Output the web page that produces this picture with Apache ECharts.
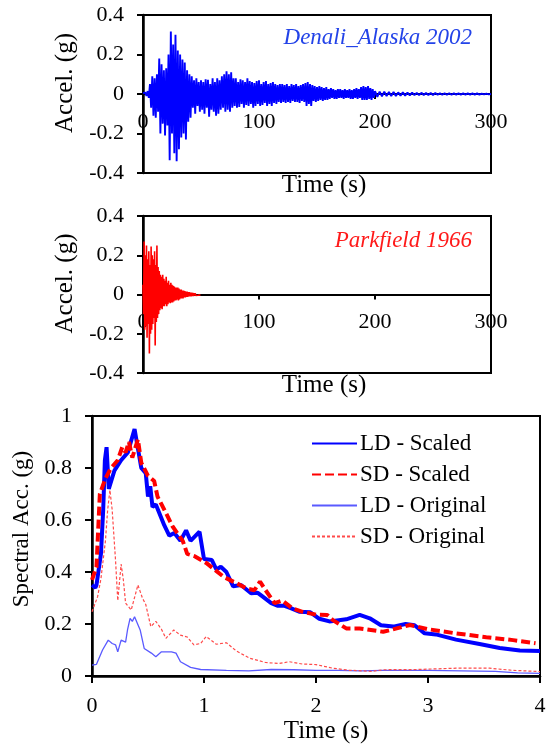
<!DOCTYPE html>
<html>
<head>
<meta charset="utf-8">
<script src="https://cdn.jsdelivr.net/npm/echarts@6/dist/echarts.min.js"></script>
<style>
html,body{margin:0;padding:0;background:#fff;}
#c{width:553px;height:747px;}
</style>
</head>
<body>
<div id="c"></div>
<script>
// ---------- DATA ----------
// Denali_Alaska 2002 accelerogram peaks (g), 1 s apart from t = 0 s
const denaliMainStart = 0, denaliMainStep = 1;
const denaliMain = [
 0.003,-0.004,0.008,-0.01,0.015,-0.02,0.05,-0.07,0.09,-0.11,
 0.08,-0.12,0.1,-0.09,0.18,-0.2,0.15,-0.15,0.12,-0.21,
 0.13,-0.16,0.2,-0.335,0.316,-0.2,0.25,-0.3,0.3,-0.34,
 0.22,-0.28,0.2,-0.22,0.175,-0.2,0.16,-0.23,0.12,-0.14,
 0.1,-0.12,0.09,-0.07,0.07,-0.1,0.08,-0.06,0.06,-0.09,
 0.07,-0.08,0.06,-0.1,0.075,-0.07,0.072,-0.115,0.05,-0.08,
 0.08,-0.09,0.06,-0.11,0.08,-0.1,0.07,-0.08,0.09,-0.07,
 0.1,-0.09,0.115,-0.08,0.1,-0.09,0.11,-0.07,0.08,-0.06,
 0.08,-0.07,0.06,-0.065,0.075,-0.05,0.07,-0.07,0.06,-0.055,
 0.08,-0.06,0.065,-0.05,0.06,-0.07,0.055,-0.06,0.065,-0.05,
 0.07,-0.06,0.05,-0.055,0.06,-0.045,0.065,-0.06,0.05,-0.05,
 0.055,-0.06,0.06,-0.045,0.05,-0.05,0.045,-0.04,0.05,-0.045,
 0.05,-0.04,0.045,-0.045,0.05,-0.04,0.04,-0.045,0.05,-0.035,
 0.045,-0.04,0.05,-0.04,0.04,-0.045,0.045,-0.035,0.05,-0.04,
 0.055,-0.06,0.06,-0.05,0.05,-0.06,0.045,-0.035,0.04,-0.04,
 0.035,-0.035,0.04,-0.03,0.035,-0.035,0.03,-0.03,0.035,-0.03,
 0.025,-0.025,0.03,-0.02,0.025,-0.025,0.02,-0.025,0.025,-0.02,
 0.025,-0.02,0.02,-0.025,0.025,-0.02,0.02,-0.02,0.025,-0.025,
 0.02,-0.025,0.025,-0.02,0.03,-0.025,0.025,-0.02,0.035,-0.03,
 0.04,-0.03,0.035,-0.03,0.04,-0.025,0.03,-0.03,0.025,-0.02
];
// Denali tail peaks (g), 2 s apart from t = 200 s
const denaliTailStart = 200, denaliTailStep = 2;
const denaliTail = [
 0.015,-0.015,0.012,-0.012,0.012,-0.01,0.01,-0.01,0.01,-0.01,
 0.008,-0.008,0.008,-0.008,0.007,-0.007,0.007,-0.006,0.006,-0.006,
 0.006,-0.005,0.005,-0.005,0.005,-0.005,0.005,-0.004,0.004,-0.004,
 0.004,-0.004,0.004,-0.004,0.004,-0.003,0.003,-0.003,0.003,-0.003,
 0.003,-0.003,0.003,-0.003,0.003,-0.003,0.002,-0.002,0.002,-0.002,
 0
];
// Parkfield 1966 accelerogram peaks (g), 0.5 s apart from t = 0 s
const parkStart = 0, parkStep = 0.5;
const parkfield = [
 0.05,-0.1,0.27,-0.18,0.2,-0.16,0.25,-0.22,0.18,-0.15,
 0.22,-0.30,0.15,-0.2,0.245,-0.18,0.2,-0.15,0.18,-0.12,
 0.22,-0.26,0.15,-0.14,0.25,-0.12,0.14,-0.1,0.12,-0.08,
 0.1,-0.07,0.09,-0.075,0.1,-0.06,0.08,-0.06,0.07,-0.05,
 0.09,-0.06,0.06,-0.05,0.07,-0.04,0.05,-0.045,0.06,-0.04,
 0.05,-0.04,0.045,-0.035,0.04,-0.03,0.035,-0.03,0.035,-0.025,
 0.035,-0.03,0.03,-0.025,0.025,-0.02,0.025,-0.02,0.02,-0.02,
 0.02,-0.015,0.018,-0.015,0.015,-0.012,0.015,-0.012,0.012,-0.01,
 0.012,-0.01,0.01,-0.01,0.01,-0.008,0.008,-0.008,0.007,-0.006,
 0.006,-0.005,0.005,-0.004,0.004,-0.004,0.003,-0.003,0.002,-0.002,
 0
];

// Spectral acceleration (g) vs period (s)
const ldScaledT  = [0,0.03,0.04,0.08,0.10,0.115,0.13,0.15,0.2,0.26,0.32,0.38,0.44,0.48,0.50,0.52,0.54,0.57,0.645,0.69,0.735,0.79,0.84,0.88,0.96,1.0,1.07,1.11,1.15,1.20,1.26,1.33,1.42,1.48,1.51,1.60,1.66,1.72,1.78,1.85,1.95,2.03,2.12,2.27,2.39,2.48,2.58,2.69,2.8,2.88,2.97,3.07,3.25,3.46,3.64,3.82,4.0];
const ldScaledSA = [0.35,0.34,0.35,0.47,0.64,0.83,0.88,0.72,0.79,0.83,0.86,0.95,0.80,0.78,0.69,0.73,0.65,0.66,0.58,0.54,0.55,0.52,0.56,0.52,0.555,0.45,0.446,0.41,0.42,0.40,0.345,0.35,0.318,0.32,0.31,0.28,0.27,0.27,0.26,0.247,0.245,0.22,0.21,0.218,0.235,0.222,0.195,0.19,0.2,0.195,0.164,0.16,0.14,0.123,0.108,0.098,0.096];

const sdScaledT  = [0,0.04,0.07,0.12,0.17,0.23,0.27,0.30,0.33,0.36,0.41,0.44,0.50,0.555,0.585,0.645,0.72,0.81,0.85,0.92,1.02,1.08,1.18,1.29,1.38,1.45,1.50,1.55,1.63,1.70,1.79,1.88,2.0,2.1,2.15,2.27,2.39,2.60,2.72,2.84,3.0,3.25,3.52,3.76,3.96];
const sdScaledSA = [0.37,0.42,0.70,0.76,0.80,0.83,0.88,0.86,0.90,0.84,0.91,0.82,0.77,0.75,0.69,0.64,0.575,0.52,0.47,0.46,0.435,0.414,0.38,0.357,0.337,0.33,0.363,0.33,0.28,0.29,0.26,0.247,0.236,0.235,0.215,0.183,0.183,0.17,0.183,0.196,0.18,0.164,0.149,0.138,0.126];

const ldOrigT  = [0,0.04,0.094,0.145,0.18,0.21,0.23,0.26,0.30,0.317,0.34,0.36,0.38,0.43,0.466,0.53,0.57,0.62,0.71,0.75,0.79,0.88,0.97,1.2,1.4,1.6,1.8,2.0,2.2,2.4,2.6,2.8,3.0,3.3,3.6,3.8,4.0];
const ldOrigSA = [0.042,0.045,0.10,0.138,0.125,0.12,0.093,0.138,0.13,0.177,0.222,0.21,0.228,0.177,0.106,0.088,0.074,0.093,0.093,0.088,0.055,0.033,0.025,0.022,0.02,0.025,0.024,0.022,0.022,0.02,0.022,0.022,0.022,0.02,0.018,0.012,0.01];

const sdOrigT  = [0,0.05,0.08,0.12,0.14,0.16,0.18,0.21,0.23,0.26,0.28,0.30,0.35,0.41,0.45,0.48,0.525,0.57,0.62,0.66,0.73,0.79,0.85,0.91,0.97,1.02,1.11,1.2,1.29,1.41,1.55,1.67,1.76,1.88,2.0,2.15,2.3,2.5,2.6,2.9,3.25,3.55,3.75,4.0];
const sdOrigSA = [0.247,0.305,0.375,0.52,0.64,0.715,0.64,0.446,0.29,0.43,0.37,0.28,0.254,0.35,0.30,0.275,0.19,0.21,0.18,0.145,0.177,0.157,0.15,0.12,0.125,0.152,0.122,0.128,0.096,0.068,0.052,0.048,0.055,0.046,0.044,0.03,0.022,0.018,0.024,0.025,0.03,0.03,0.022,0.017];

const accelTicks = [-0.4,-0.2,0,0.2,0.4];
const timeTicks = [0,100,200,300];
const labels = { denali: 'Denali_Alaska 2002', park: 'Parkfield 1966' };
const legendNames = ['LD - Scaled','SD - Scaled','LD - Original','SD - Original'];

// ---------- BUILD ----------
const FONT = "'Liberation Serif', 'Times New Roman', Times, serif";
const zip = (a,b) => a.map((v,i)=>[v,b[i]]);
const stepSeries = (vals,start,step) => vals.map((v,i)=>[start + i*step, v]);
const denaliData = stepSeries(denaliMain, denaliMainStart, denaliMainStep)
  .concat(stepSeries(denaliTail, denaliTailStart, denaliTailStep));
const parkData = stepSeries(parkfield, parkStart, parkStep);

const tick = {fontFamily: FONT, fontSize: 22, color: '#000'};
const nameTxt = {fontFamily: FONT, fontSize: 25, color: '#000'};

const tsGrids = [
  {left:143, width:348, top:15, height:158},
  {left:143, width:348, top:216, height:157}
];

function tsX(grid){
  // x axis drawn along the zero line (middle of the symmetric y range)
  const zeroOffset = -tsGrids[grid].height / 2;
  return {
    type:'value', gridIndex:grid, min:timeTicks[0], max:timeTicks[timeTicks.length-1], interval:100,
    position:'bottom', offset:zeroOffset,
    axisLine:{onZero:false, lineStyle:{color:'#000', width:2}},
    axisTick:{show:true, inside:false, length:5, lineStyle:{color:'#000', width:2}},
    axisLabel:Object.assign({margin:17}, tick),
    splitLine:{show:false},
    name:'Time (s)', nameLocation:'middle', nameGap:-zeroOffset + 0,
    nameTextStyle:Object.assign({padding:[0,0,0,14]}, nameTxt)
  };
}
function tsY(grid){
  return {
    type:'value', gridIndex:grid, min:accelTicks[0], max:accelTicks[accelTicks.length-1], interval:0.2,
    axisLine:{show:true, onZero:false, lineStyle:{color:'#000', width:2.5}},
    axisTick:{show:true, inside:false, length:6, lineStyle:{color:'#000', width:2}},
    axisLabel:Object.assign({margin:19}, tick),
    splitLine:{show:false},
    name:'Accel. (g)', nameLocation:'middle', nameGap:61,
    nameTextStyle:Object.assign({padding:[0,0,0,22]}, nameTxt)
  };
}

const xAxes = [tsX(0), tsX(1), {
  type:'value', gridIndex:2, min:0, max:4, interval:1,
  axisLine:{onZero:false, lineStyle:{color:'#000', width:2.5}},
  axisTick:{show:true, inside:false, length:7, lineStyle:{color:'#000', width:2}},
  axisLabel:Object.assign({margin:19}, tick),
  splitLine:{show:false},
  name:'Time (s)', nameLocation:'middle', nameGap:43,
  nameTextStyle:Object.assign({padding:[0,0,0,20]}, nameTxt)
}];
const yAxes = [tsY(0), tsY(1), {
  type:'value', gridIndex:2, min:0, max:1, interval:0.2,
  axisLine:{show:true, onZero:false, lineStyle:{color:'#000', width:2.5}},
  axisTick:{show:true, inside:false, length:7, lineStyle:{color:'#000', width:2}},
  axisLabel:Object.assign({margin:20}, tick),
  splitLine:{show:false},
  name:'Spectral Acc. (g)', nameLocation:'middle', nameGap:55,
  nameTextStyle:Object.assign({padding:[0,0,0,34]}, {fontFamily:FONT, fontSize:23, color:'#000'})
}];

const frame = {show:true, borderColor:'#000', borderWidth:2, backgroundColor:'transparent'};
const option = {
  animation:false,
  backgroundColor:'#fff',
  textStyle:{fontFamily:FONT},
  title:[
    {text:labels.denali, right:81, top:26, padding:0,
     textStyle:{fontFamily:FONT, fontSize:23, fontStyle:'italic', fontWeight:'normal', color:'#2343e8'}},
    {text:labels.park, right:81, top:229, padding:0,
     textStyle:{fontFamily:FONT, fontSize:23, fontStyle:'italic', fontWeight:'normal', color:'#ff1a1a'}}
  ],
  grid:[
    Object.assign({}, tsGrids[0], frame),
    Object.assign({}, tsGrids[1], frame),
    Object.assign({left:92, width:448, top:416, height:260}, frame)
  ],
  xAxis:xAxes,
  yAxis:yAxes,
  legend:{
    data:legendNames, orient:'vertical', left:311, top:432, padding:0,
    itemWidth:45, itemHeight:14, itemGap:8,
    itemStyle:{opacity:0},
    textStyle:{fontFamily:FONT, fontSize:23, color:'#000', padding:[0,0,0,-2]}
  },
  series:[
    {type:'line', name:'Denali', xAxisIndex:0, yAxisIndex:0, data:denaliData, symbol:'none',
     lineStyle:{color:'#0000ff', width:1.9}, itemStyle:{color:'#0000ff'}, z:3},
    {type:'line', name:'Parkfield', xAxisIndex:1, yAxisIndex:1, data:parkData, symbol:'none',
     lineStyle:{color:'#ff0000', width:1.6}, itemStyle:{color:'#ff0000'}, z:3},
    {type:'line', name:legendNames[2], xAxisIndex:2, yAxisIndex:2, data:zip(ldOrigT, ldOrigSA), symbol:'none',
     lineStyle:{color:'#5a5aff', width:1.3}, itemStyle:{color:'#5a5aff'}},
    {type:'line', name:legendNames[3], xAxisIndex:2, yAxisIndex:2, data:zip(sdOrigT, sdOrigSA), symbol:'none',
     lineStyle:{color:'#ff4a4a', width:1.2, type:[3,2]}, itemStyle:{color:'#ff4a4a'}},
    {type:'line', name:legendNames[0], xAxisIndex:2, yAxisIndex:2, data:zip(ldScaledT, ldScaledSA), symbol:'none',
     lineStyle:{color:'#0000ff', width:4}, itemStyle:{color:'#0000ff'}},
    {type:'line', name:legendNames[1], xAxisIndex:2, yAxisIndex:2, data:zip(sdScaledT, sdScaledSA), symbol:'none',
     lineStyle:{color:'#ff0000', width:4, type:[9,4]}, itemStyle:{color:'#ff0000'}}
  ]
};
const chart = echarts.init(document.getElementById('c'), null, {renderer:'canvas'});
chart.setOption(option);
</script>
</body>
</html>
